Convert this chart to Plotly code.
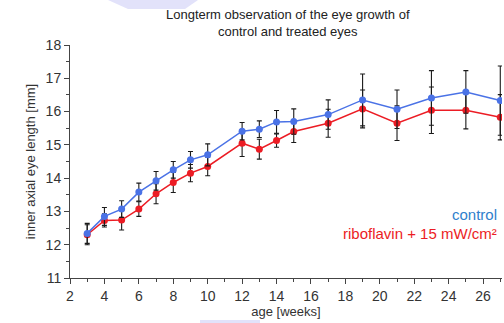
import plotly.graph_objects as go

# Age in weeks at each measurement
age_weeks = [3, 4, 5, 6, 7, 8, 9, 10, 12, 13, 14, 15, 17, 19, 21, 23, 25, 27]

# Mean inner axial eye length [mm] and standard deviation
control_mean = [12.34, 12.85, 13.07, 13.58, 13.92, 14.25, 14.55, 14.70, 15.41, 15.47,
                15.69, 15.70, 15.91, 16.35, 16.07, 16.41, 16.59, 16.33]
control_sd = [0.30, 0.27, 0.25, 0.27, 0.28, 0.25, 0.25, 0.33, 0.26, 0.25,
              0.34, 0.38, 0.44, 0.78, 0.58, 0.82, 0.64, 1.04]

treated_mean = [12.30, 12.73, 12.74, 13.07, 13.53, 13.87, 14.15, 14.35, 15.05, 14.87,
                15.13, 15.40, 15.65, 16.08, 15.65, 16.04, 16.04, 15.83]
treated_sd = [0.30, 0.20, 0.30, 0.22, 0.30, 0.30, 0.26, 0.28, 0.40, 0.30,
              0.20, 0.33, 0.42, 0.57, 0.52, 0.70, 0.56, 0.68]

title_text = "Longterm observation of the eye growth of<br>control and treated eyes"
x_title = "age [weeks]"
y_title = "inner axial eye length [mm]"
control_label = "control"
treated_label = "riboflavin + 15 mW/cm²"

BLUE = "#4a72e6"
RED = "#ec1c24"
FONT = "Liberation Sans, Arial, sans-serif"

W, H = 504, 323
ML, MR, MT, MB = 70, 2, 45, 45
PW, PH = W - ML - MR, H - MT - MB


def px_x(px):
    """Horizontal pixel position -> paper fraction."""
    return (px - ML) / PW


def px_y(py):
    """Vertical pixel position (from top) -> paper fraction."""
    return 1 - (py - MT) / PH


fig = go.Figure()

for name, mean, sd, color in [
    (treated_label, treated_mean, treated_sd, RED),
    (control_label, control_mean, control_sd, BLUE),
]:
    fig.add_trace(go.Scatter(
        x=age_weeks, y=mean, name=name, mode="lines+markers",
        line=dict(color=color, width=1.5),
        marker=dict(color=color, size=7),
        error_y=dict(type="data", array=sd, visible=True,
                     color="#1a1a1a", thickness=1.1, width=2.5),
        showlegend=False,
    ))

axis_common = dict(
    showgrid=False, zeroline=False, showline=True, linecolor="#444",
    linewidth=1, ticks="outside", ticklen=5, tickwidth=1, tickcolor="#444",
    tickfont=dict(family=FONT, size=14, color="#333"),
    minor=dict(ticks="outside", ticklen=3, tickwidth=1, tickcolor="#444"),
)

fig.update_xaxes(range=[2, 27.1], dtick=2, tick0=2,
                 title=dict(text=x_title, font=dict(family=FONT, size=13, color="#333"),
                            standoff=4),
                 **axis_common)
fig.update_xaxes(minor_dtick=1)
fig.update_yaxes(range=[11, 18], dtick=1,
                 title=dict(text=y_title, font=dict(family=FONT, size=13, color="#333"),
                            standoff=7),
                 **axis_common)
fig.update_yaxes(minor_dtick=0.5)

# Two-line heading
fig.add_annotation(x=px_x(288), y=px_y(5), xref="paper", yref="paper",
                   xanchor="center", yanchor="top", showarrow=False,
                   text=title_text, align="center",
                   font=dict(family=FONT, size=13, color="#222"))

# Series labels placed inside the plot, right-aligned
fig.add_annotation(x=px_x(499), y=px_y(214), xref="paper", yref="paper",
                   yanchor="middle", xanchor="right", showarrow=False,
                   text=control_label,
                   font=dict(family=FONT, size=15, color="#2f80cc"))
fig.add_annotation(x=px_x(499), y=px_y(233), xref="paper", yref="paper",
                   yanchor="middle", xanchor="right", showarrow=False,
                   text=treated_label,
                   font=dict(family=FONT, size=15, color=RED))

# Faint lavender smudges at the top and bottom edges
fig.add_shape(type="path", xref="paper", yref="paper", layer="below",
              path=(f"M {px_x(108)} {px_y(0)} L {px_x(198)} {px_y(0)} "
                    f"L {px_x(185)} {px_y(9)} L {px_x(128)} {px_y(9)} Z"),
              fillcolor="#e2e2fa", line=dict(width=0))
fig.add_shape(type="rect", xref="paper", yref="paper", layer="below",
              x0=px_x(200), x1=px_x(260), y0=px_y(323), y1=px_y(320),
              fillcolor="#e2e2fa", line=dict(width=0))

fig.update_layout(
    width=W, height=H,
    margin=dict(l=ML, r=MR, t=MT, b=MB),
    paper_bgcolor="white", plot_bgcolor="white",
)

fig.write_html("out.html")
